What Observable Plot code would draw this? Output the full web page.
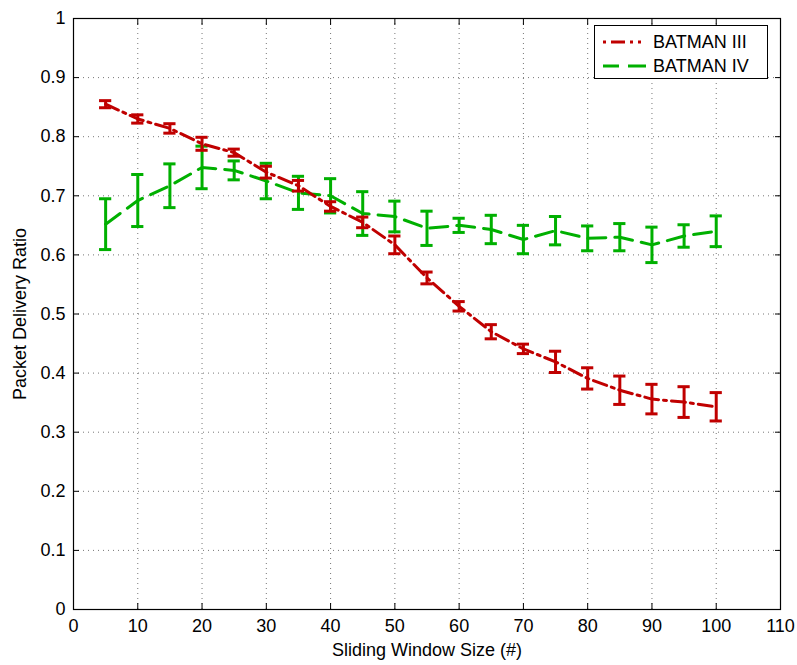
<!DOCTYPE html>
<html>
<head>
<meta charset="utf-8">
<script src="https://cdn.jsdelivr.net/npm/d3@7"></script>
<script src="https://cdn.jsdelivr.net/npm/@observablehq/plot@0.6"></script>
<style>
  html, body { margin: 0; padding: 0; background: #fff; }
  #wrap { position: relative; width: 797px; height: 665px; font-family: "Liberation Sans", Arial, Helvetica, sans-serif; }
  #chart svg text { font-size: 18px; fill: #000; }
  #legend { position: absolute; left: 594px; top: 25px; width: 174px; height: 54px; border: 1px solid #000; background: #fff; box-sizing: border-box; }
  .row { position: absolute; left: 8px; height: 22px; display: flex; align-items: center; font-size: 18px; color: #000; }
  .row svg { margin-right: 7px; }
</style>
</head>
<body>
<div id="wrap">
  <div id="chart"></div>
  <div id="legend">
    <div class="row" style="top:5px"><svg width="43" height="6"><line x1="0" y1="3" x2="43" y2="3" stroke="#c00000" stroke-width="3" stroke-dasharray="3,5,14,5,3,5"/></svg>BATMAN III</div>
    <div class="row" style="top:29px"><svg width="43" height="6"><line x1="0" y1="3" x2="43" y2="3" stroke="#00b000" stroke-width="3" stroke-dasharray="16,9,18"/></svg>BATMAN IV</div>
  </div>
</div>
<script>
const windowSizes = [5, 10, 15, 20, 25, 30, 35, 40, 45, 50, 55, 60, 65, 70, 75, 80, 85, 90, 95, 100];
const batman3Mean = [0.855, 0.830, 0.814, 0.788, 0.773, 0.740, 0.717, 0.682, 0.655, 0.617, 0.561, 0.513, 0.470, 0.441, 0.419, 0.391, 0.371, 0.356, 0.351, 0.343];
const batman3Err  = [0.006, 0.007, 0.008, 0.011, 0.006, 0.010, 0.009, 0.008, 0.009, 0.015, 0.010, 0.008, 0.012, 0.008, 0.018, 0.018, 0.024, 0.025, 0.026, 0.024];
const batman4Mean = [0.652, 0.692, 0.717, 0.748, 0.743, 0.725, 0.705, 0.700, 0.670, 0.665, 0.645, 0.650, 0.643, 0.626, 0.641, 0.628, 0.630, 0.617, 0.632, 0.640];
const batman4Err  = [0.043, 0.044, 0.037, 0.036, 0.016, 0.030, 0.028, 0.029, 0.037, 0.026, 0.029, 0.012, 0.024, 0.024, 0.024, 0.021, 0.023, 0.030, 0.019, 0.026];
const xTicks = [0, 10, 20, 30, 40, 50, 60, 70, 80, 90, 100, 110];
const yTicks = [0, 0.1, 0.2, 0.3, 0.4, 0.5, 0.6, 0.7, 0.8, 0.9, 1];

const s3 = windowSizes.map((x, i) => ({x, y: batman3Mean[i], e: batman3Err[i]}));
const s4 = windowSizes.map((x, i) => ({x, y: batman4Mean[i], e: batman4Err[i]}));
const RED = "#c00000", GREEN = "#00b000";
const capHalf = 0.95;
const fmtY = d => String(+d.toFixed(1));

function errorMarks(data, color) {
  return [
    Plot.ruleX(data, {x: "x", y1: d => d.y - d.e, y2: d => d.y + d.e, stroke: color, strokeWidth: 3}),
    Plot.ruleY(data, {y: d => d.y - d.e, x1: d => d.x - capHalf, x2: d => d.x + capHalf, stroke: color, strokeWidth: 3}),
    Plot.ruleY(data, {y: d => d.y + d.e, x1: d => d.x - capHalf, x2: d => d.x + capHalf, stroke: color, strokeWidth: 3})
  ];
}

const chart = Plot.plot({
  width: 797,
  height: 665,
  marginLeft: 73,
  marginRight: 17,
  marginTop: 18,
  marginBottom: 56,
  style: {fontFamily: "'Liberation Sans', Arial, Helvetica, sans-serif", fontSize: "18px", color: "#000", background: "#fff"},
  x: {domain: [0, 110]},
  y: {domain: [0, 1]},
  marks: [
    Plot.gridX(xTicks, {stroke: "#555", strokeOpacity: 0.8, strokeDasharray: "1,4"}),
    Plot.gridY(yTicks, {stroke: "#555", strokeOpacity: 0.8, strokeDasharray: "1,4"}),
    Plot.axisX(xTicks, {anchor: "bottom", tickSize: -6, tickPadding: 16, label: "Sliding Window Size (#)", labelAnchor: "center", labelArrow: "none", labelOffset: 46}),
    Plot.axisX(xTicks, {anchor: "top", tickSize: -6, tickFormat: () => "", label: null}),
    Plot.axisY(yTicks, {anchor: "left", tickSize: -6, tickPadding: 14, tickFormat: fmtY, label: "Packet Delivery Ratio", labelAnchor: "center", labelArrow: "none", labelOffset: 60}),
    Plot.axisY(yTicks, {anchor: "right", tickSize: -6, tickFormat: () => "", label: null}),
    Plot.line(s4, {x: "x", y: "y", stroke: GREEN, strokeWidth: 3, strokeDasharray: "18,9"}),
    ...errorMarks(s4, GREEN),
    Plot.line(s3, {x: "x", y: "y", stroke: RED, strokeWidth: 3, strokeDasharray: "14,5,3,5"}),
    ...errorMarks(s3, RED),
    Plot.frame({stroke: "#000", strokeWidth: 1.2})
  ]
});
document.getElementById("chart").appendChild(chart);
</script>
</body>
</html>
